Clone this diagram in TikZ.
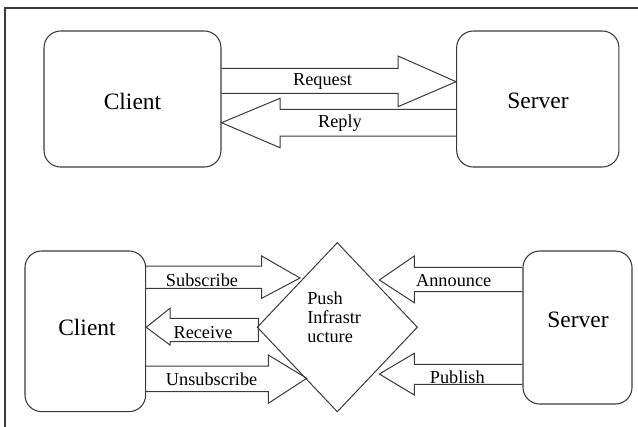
\documentclass[tikz,border=0pt]{standalone}
\usepackage{fontspec}
\setmainfont{Liberation Serif}
\newfontfamily\lserif{Liberation Serif}
\usetikzlibrary{shapes.geometric}
\definecolor{ln}{HTML}{3A3A3A}
\tikzset{
  box/.style={draw=ln, line width=0.8pt, rounded corners=12.5pt, inner sep=0pt},
  big/.style={font=\lserif\fontsize{17.6}{20}\selectfont, text=black},
  lbl/.style={font=\lserif\fontsize{13.7}{14.4}\selectfont, text=black, inner sep=0pt},
  barrow/.style={draw=ln, line width=0.75pt, line join=miter},
}
\begin{document}
\begin{tikzpicture}[x=0.75pt,y=-0.75pt]
\useasboundingbox (0,0) rectangle (638,426);
% frame
\draw[draw=ln, line width=0.9pt] (5,430) -- (5,8) -- (638,8);

% ---------- top ----------
\node[box, minimum width=132.75pt, minimum height=102pt] (c1) at (132.5,99) {};
\node[big] (c1t) at (132.5,101) {Client};
\node[box, minimum width=121.7pt, minimum height=102pt] (s1) at (537.8,99) {};
\node[big] (s1t) at (538,101) {Server};

\node[lbl] (req) at (322.5,81) {Request};
\node[lbl] (rep) at (340,123.5) {Reply};

% Request arrow
\draw[barrow] (c1.east |- 0,68.3) -- (398,68.3) -- (398,56) -- (s1.west |- 0,81.7)
  -- (398,106.7) -- (398,93.3) -- (c1.east |- 0,93.3);
% Reply arrow
\draw[barrow] (s1.west |- 0,109.3) -- (280,109.3) -- (280,98.3) -- (c1.east |- 0,122.7)
  -- (280,147.7) -- (280,136) -- (s1.west |- 0,136);

% ---------- bottom ----------
\node[box, minimum width=90.5pt, minimum height=120.5pt] (c2) at (85.3,331.3) {};
\node[big] (c2t) at (87,327) {Client};
\node[box, minimum width=81.75pt, minimum height=114.75pt] (s2) at (577.5,327.5) {};
\node[big] (s2t) at (578,319.5) {Server};

\node[draw=ln, line width=0.75pt, diamond, minimum width=120pt, minimum height=126.75pt, inner sep=0pt, outer sep=0pt] (pi) at (337.3,327.2) {};
\node[lbl, align=left, anchor=west] (pit) at (307,317.5) {Push\\Infrastr\\ucture};

\node[lbl, anchor=west] (sub) at (165.7,280) {Subscribe};
\node[lbl] (rec) at (203,332.7) {Receive};
\node[lbl, anchor=west] (uns) at (165.7,379.3) {Unsubscribe};
\node[lbl] (ann) at (453.7,280.7) {Announce};
\node[lbl] (pub) at (457.3,377.5) {Publish};

% Subscribe
\draw[barrow] (c2.east |- 0,266) -- (261.7,266) -- (261.7,256) -- (300,278)
  -- (261.7,298.3) -- (261.7,288.3) -- (c2.east |- 0,288.3);
% Receive
\draw[barrow] (258.3,318.3) -- (170,318.3) -- (170,308.3) -- (c2.east |- 0,327.3)
  -- (170,345) -- (170,341.7) -- (258.3,341.7) -- cycle;
% Unsubscribe
\draw[barrow] (c2.east |- 0,366) -- (268.3,366) -- (268.3,355) -- (306.7,378.3)
  -- (268.3,403.3) -- (268.3,391.7) -- (c2.east |- 0,391.7);
% Announce
\draw[barrow] (s2.west |- 0,267.3) -- (414.3,267.3) -- (414.3,256) -- (379.3,280)
  -- (414.3,302.7) -- (414.3,291.7) -- (s2.west |- 0,291.7);
% Publish
\draw[barrow] (s2.west |- 0,364.3) -- (414.3,364.3) -- (414.3,353.3) -- (379.3,374)
  -- (414.3,395) -- (414.3,384.3) -- (s2.west |- 0,384.3);
\end{tikzpicture}
\end{document}
